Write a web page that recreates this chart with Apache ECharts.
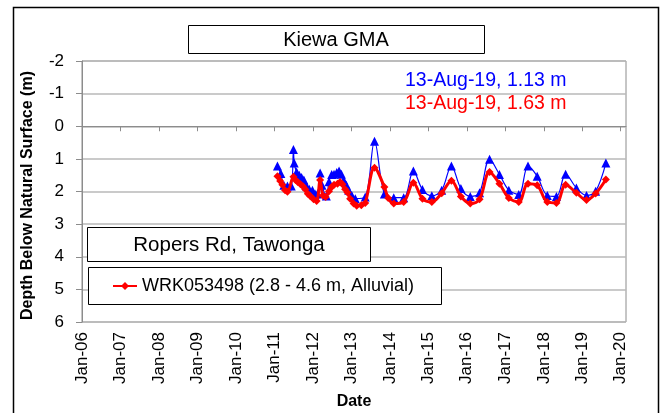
<!DOCTYPE html>
<html><head><meta charset="utf-8">
<script src="https://cdn.jsdelivr.net/npm/echarts@6/dist/echarts.min.js"></script>
<style>html,body{margin:0;padding:0;background:#fff}#c{width:664px;height:413px}</style>
</head><body><div id="c"></div>
<script>
const chartTitle = 'Kiewa GMA';
const siteName = 'Ropers Rd, Tawonga';
const redName = 'WRK053498 (2.8 - 4.6 m, Alluvial)';
const blueNote = '13-Aug-19, 1.13 m';
const redNote = '13-Aug-19, 1.63 m';

const blueDates = ['2011-01-30','2011-03-03','2011-04-01','2011-05-05','2011-06-10','2011-07-01','2011-07-08','2011-07-31','2011-08-25','2011-09-16','2011-10-08','2011-11-02','2011-11-28','2011-12-28','2012-01-22','2012-02-13','2012-03-10','2012-03-28','2012-05-08','2012-06-02','2012-06-28','2012-07-20','2012-08-15','2012-09-06','2012-09-28','2012-10-20','2012-11-14','2012-12-06','2013-01-05','2013-02-07','2013-05-12','2013-08-08','2013-11-10','2014-02-07','2014-05-12','2014-08-12','2014-11-06','2015-02-03','2015-05-08','2015-08-08','2015-11-06','2016-02-03','2016-05-01','2016-08-04','2016-11-06','2017-02-03','2017-05-08','2017-08-04','2017-10-30','2018-02-03','2018-05-01','2018-07-27','2018-11-06','2019-02-10','2019-05-08','2019-08-13'];
const blueValues = [1.22,1.45,1.81,1.83,1.83,0.71,1.13,1.40,1.50,1.57,1.65,1.83,1.93,1.96,2.08,2.08,1.43,1.81,2.14,1.70,1.48,1.47,1.42,1.37,1.47,1.66,1.81,1.96,2.12,2.22,2.17,0.46,2.08,2.19,2.19,1.37,1.94,2.13,1.96,1.22,1.91,2.15,2.04,1.01,1.48,1.96,2.09,1.22,1.53,2.12,2.15,1.47,1.89,2.12,1.99,1.13];

const redDates = ['2011-01-30','2011-02-25','2011-03-18','2011-04-12','2011-05-05','2011-07-01','2011-07-20','2011-08-10','2011-09-06','2011-09-28','2011-10-20','2011-11-14','2011-12-06','2012-01-08','2012-02-06','2012-03-10','2012-04-05','2012-05-01','2012-06-02','2012-06-28','2012-07-20','2012-08-22','2012-09-16','2012-10-08','2012-11-02','2012-11-24','2012-12-20','2013-01-22','2013-02-20','2013-04-05','2013-05-12','2013-08-08','2013-11-10','2013-12-16','2014-02-07','2014-05-12','2014-08-12','2014-11-06','2015-02-03','2015-05-08','2015-08-08','2015-11-06','2016-02-03','2016-05-01','2016-08-04','2016-11-06','2017-02-03','2017-05-08','2017-08-04','2017-10-30','2018-02-03','2018-05-01','2018-07-27','2018-11-06','2019-02-10','2019-05-08','2019-08-13'];
const redValues = [1.53,1.68,1.79,1.96,2.01,1.55,1.65,1.71,1.78,1.84,1.93,2.07,2.14,2.24,2.29,1.65,2.12,2.17,1.99,1.86,1.79,1.76,1.71,1.78,1.93,2.03,2.22,2.37,2.44,2.42,2.35,1.27,1.86,2.20,2.37,2.32,1.73,2.22,2.32,2.05,1.67,2.15,2.37,2.24,1.40,1.76,2.20,2.32,1.76,1.81,2.32,2.35,1.79,2.04,2.26,2.06,1.63];

const xMin = '2006-01-01';
const xMax = '2020-02-20';
const yMin = -2, yMax = 6, yStep = 1;

const chart = echarts.init(document.getElementById('c'));
const pairs = (d, v) => d.map((x, i) => [x, v[i]]);
const FONT = 'Liberation Sans';
const DAY = 86400000;

chart.setOption({
  animation: false,
  backgroundColor: '#fff',
  textStyle: { fontFamily: FONT },
  grid: { left: 82, top: 61, right: 38, bottom: 91, show: true, borderColor: '#8c8c8c', borderWidth: 1, containLabel: false, outerBoundsMode: 'none' },
  legend: {
    data: [redName], left: 112, top: 277, itemWidth: 24, itemHeight: 10, itemGap: 3, padding: 0,
    textStyle: { fontSize: 18, color: '#000', fontFamily: FONT }
  },
  xAxis: {
    type: 'time', min: xMin, max: xMax,
    minInterval: 365 * DAY, maxInterval: 366 * DAY, splitNumber: 14,
    name: 'Date', nameLocation: 'middle', nameGap: 72,
    nameTextStyle: { fontSize: 16, fontWeight: 'bold', color: '#000', fontFamily: FONT },
    axisLine: { lineStyle: { color: '#8c8c8c', width: 1 } },
    axisTick: { show: true, length: 5, lineStyle: { color: '#8c8c8c' } },
    splitLine: { show: false },
    axisLabel: {
      rotate: 90, fontSize: 17, color: '#000', margin: 10, fontFamily: FONT,
      formatter: v => { const d = new Date(v); return 'Jan-' + String(d.getFullYear() % 100).padStart(2, '0'); }
    }
  },
  yAxis: {
    type: 'value', inverse: true, min: yMin, max: yMax, interval: yStep,
    name: 'Depth Below Natural Surface (m)', nameLocation: 'middle', nameGap: 46, nameRotate: 90,
    nameTextStyle: { fontSize: 16, fontWeight: 'bold', color: '#000', fontFamily: FONT, padding: [0, 0, 0, -8] },
    axisLine: { show: true, lineStyle: { color: '#8c8c8c', width: 1 } },
    axisTick: { show: true, length: 6, lineStyle: { color: '#8c8c8c' } },
    splitLine: { show: true, lineStyle: { color: '#b8b8b8', width: 1.5 } },
    axisLabel: { fontSize: 17, color: '#000', margin: 18, fontFamily: FONT }
  },
  graphic: [
    { type: 'rect', shape: { x: 13.5, y: 7.5, width: 645, height: 420 }, style: { fill: null, stroke: '#000', lineWidth: 1.5 }, silent: true, z: 0 },
    { type: 'rect', shape: { x: 188.5, y: 25.5, width: 296, height: 28 }, style: { fill: '#fff', stroke: '#000', lineWidth: 1 }, z: 10 },
    { type: 'text', style: { text: chartTitle, x: 336, y: 40, align: 'center', verticalAlign: 'middle', font: '20px "Liberation Sans"', fill: '#000' }, z: 11 },
    { type: 'text', style: { text: blueNote, x: 405, y: 81, align: 'left', verticalAlign: 'middle', font: '19.5px "Liberation Sans"', fill: '#0000ff' }, z: 11 },
    { type: 'text', style: { text: redNote, x: 405, y: 104, align: 'left', verticalAlign: 'middle', font: '19.5px "Liberation Sans"', fill: '#ff0000' }, z: 11 },
    { type: 'rect', shape: { x: 87.5, y: 227.5, width: 283, height: 34 }, style: { fill: '#fff', stroke: '#000', lineWidth: 1 }, z: 10 },
    { type: 'text', style: { text: siteName, x: 229, y: 245, align: 'center', verticalAlign: 'middle', font: '20.5px "Liberation Sans"', fill: '#000' }, z: 11 },
    { type: 'rect', shape: { x: 88.5, y: 267.5, width: 353, height: 37 }, style: { fill: '#fff', stroke: '#000', lineWidth: 1 }, z: 1 }
  ],
  series: [
    {
      type: 'line', name: 'blue', data: pairs(blueDates, blueValues), smooth: 0.35,
      symbol: 'triangle', symbolSize: 9, itemStyle: { color: '#0000ff' },
      lineStyle: { color: '#0000ff', width: 1.2 }, z: 3
    },
    {
      type: 'line', name: redName, data: pairs(redDates, redValues), smooth: 0.35,
      symbol: 'diamond', symbolSize: 8, itemStyle: { color: '#ff0000' },
      lineStyle: { color: '#ff0000', width: 3 }, z: 4
    }
  ]
});
</script></body></html>
